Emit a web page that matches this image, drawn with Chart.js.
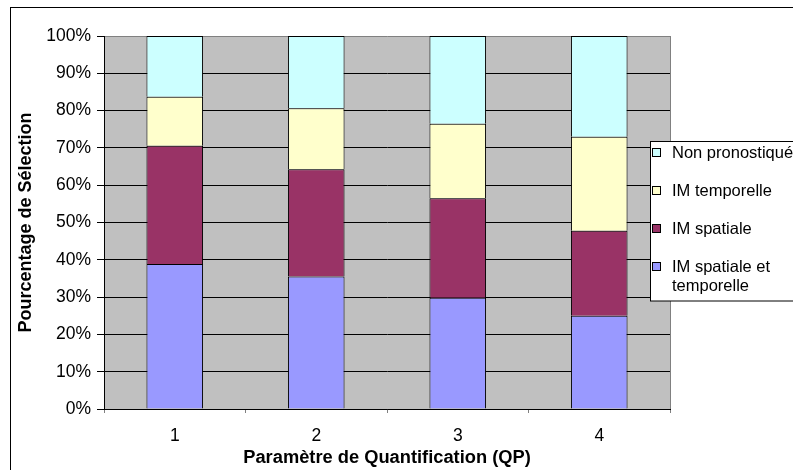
<!DOCTYPE html>
<html>
<head>
<meta charset="utf-8">
<script src="https://cdn.jsdelivr.net/npm/chart.js@4/dist/chart.umd.min.js"></script>
<style>
  html, body { margin: 0; padding: 0; background: #fff; }
  #wrap { width: 793px; height: 470px; }
</style>
</head>
<body>
<div id="wrap"><canvas id="graphe" width="793" height="470"></canvas></div>
<script>
const graphe = document.getElementById('graphe');

// categories (QP)
var categories = ['1', '2', '3', '4']
// series, from bottom of the stack to the top (%)
var imSpatialeTemporelle = [38.9, 35.5, 29.8, 25.0]
var imSpatiale = [31.7, 28.8, 26.7, 22.8]
var imTemporelle = [13.1, 16.3, 20.0, 25.2]
var nonPronostique = [16.3, 19.4, 23.5, 27.0]
var seriesLabels = ['IM spatiale et temporelle', 'IM spatiale', 'IM temporelle', 'Non pronostiqué']
var yTicks = [0, 10, 20, 30, 40, 50, 60, 70, 80, 90, 100]

const police = "'Liberation Sans', Arial, sans-serif"

// fond gris de la zone de traçage
const fondGris = {
  id: 'fondGris',
  beforeDraw(chart) {
    const {ctx, chartArea: a} = chart
    ctx.save()
    ctx.fillStyle = '#C0C0C0'
    ctx.fillRect(a.left, a.top, a.right - a.left, a.bottom - a.top)
    ctx.restore()
  },
  beforeDatasetsDraw(chart) {
    const {ctx, chartArea: a} = chart
    ctx.save()
    ctx.strokeStyle = '#808080'
    ctx.lineWidth = 1
    ctx.beginPath()
    ctx.moveTo(Math.round(a.right) + 0.5, a.top)
    ctx.lineTo(Math.round(a.right) + 0.5, a.bottom)
    ctx.stroke()
    ctx.restore()
  }
}

// cadre + légende façon Excel
const legendeExcel = {
  id: 'legendeExcel',
  afterDraw(chart) {
    const ctx = chart.ctx
    ctx.save()
    // cadre extérieur
    ctx.strokeStyle = '#000'
    ctx.lineWidth = 1
    ctx.strokeRect(10.5, 7.5, 900, 600)

    // boîte de légende
    const bx = 650.5, by = 141.5
    ctx.fillStyle = '#fff'
    ctx.fillRect(bx, by, 300, 159.5)
    ctx.strokeRect(bx, by, 300, 159.5)

    ctx.font = '16.5px ' + police
    ctx.textBaseline = 'middle'
    ctx.textAlign = 'left'
    var y = 153
    var ds = chart.data.datasets
    for (var i = ds.length - 1; i >= 0; i--) {
      // coupe le texte en lignes
      var mots = ds[i].label.split(' ')
      var lignes = []
      var courante = ''
      for (var m of mots) {
        var essai = courante ? courante + ' ' + m : m
        if (ctx.measureText(essai).width > 150 && courante) {
          lignes.push(courante)
          courante = m
        } else {
          courante = essai
        }
      }
      lignes.push(courante)

      ctx.fillStyle = ds[i].backgroundColor
      ctx.fillRect(653, y - 4, 8, 8)
      ctx.strokeStyle = '#000'
      ctx.strokeRect(652.5, y - 4.5, 8, 8)
      ctx.fillStyle = '#000'
      for (var k = 0; k < lignes.length; k++) {
        ctx.fillText(lignes[k], 672, y + k * 19)
      }
      y += 38
    }
    ctx.restore()
  }
}

new Chart(graphe, {
  type: 'bar',
  data: {
    labels: categories,
    datasets: [
      {
        label: seriesLabels[0],
        data: imSpatialeTemporelle,
        backgroundColor: '#9999FF',
      },
      {
        label: seriesLabels[1],
        data: imSpatiale,
        backgroundColor: '#993366',
      },
      {
        label: seriesLabels[2],
        data: imTemporelle,
        backgroundColor: '#FFFFCC',
      },
      {
        label: seriesLabels[3],
        data: nonPronostique,
        backgroundColor: '#CCFFFF',
      }
    ]
  },
  options: {
    responsive: false,
    animation: false,
    devicePixelRatio: 1,
    datasets: {
      bar: {
        borderColor: '#000',
        borderWidth: 1,
        categoryPercentage: 1,
        barPercentage: 0.4
      }
    },
    layout: {
      padding: { left: 0, top: 36, right: 123, bottom: 0 }
    },
    plugins: {
      legend: { display: false },
      tooltip: { enabled: false }
    },
    scales: {
      x: {
        stacked: true,
        afterFit(s) { s.height = 61 },
        grid: {
          drawOnChartArea: false,
          drawTicks: true,
          tickLength: 4,
          color: '#808080',
          offset: true
        },
        border: { color: '#000', width: 1 },
        ticks: {
          color: '#000',
          padding: 12.5,
          font: { family: police, size: 17.5 }
        },
        title: {
          display: true,
          text: 'Paramètre de Quantification (QP)',
          color: '#000',
          padding: { top: 0, bottom: 1.5 },
          font: { family: police, size: 18.3, weight: 'bold' }
        }
      },
      y: {
        stacked: true,
        min: 0,
        max: 100,
        afterFit(s) { s.width = 104 },
        afterBuildTicks(s) { s.ticks = yTicks.map(v => ({ value: v })) },
        grid: {
          color: (c) => (c.tick && c.tick.value === 100) ? '#808080' : '#000',
          tickColor: '#000',
          tickLength: 7
        },
        border: { color: '#000', width: 1 },
        ticks: {
          color: '#000',
          padding: 6,
          font: { family: police, size: 17.5 },
          callback: (v) => v + '%'
        },
        title: {
          display: true,
          text: 'Pourcentage de Sélection',
          color: '#000',
          padding: { top: 15, bottom: 0 },
          font: { family: police, size: 18, weight: 'bold' }
        }
      }
    }
  },
  plugins: [fondGris, legendeExcel]
});
</script>
</body>
</html>
